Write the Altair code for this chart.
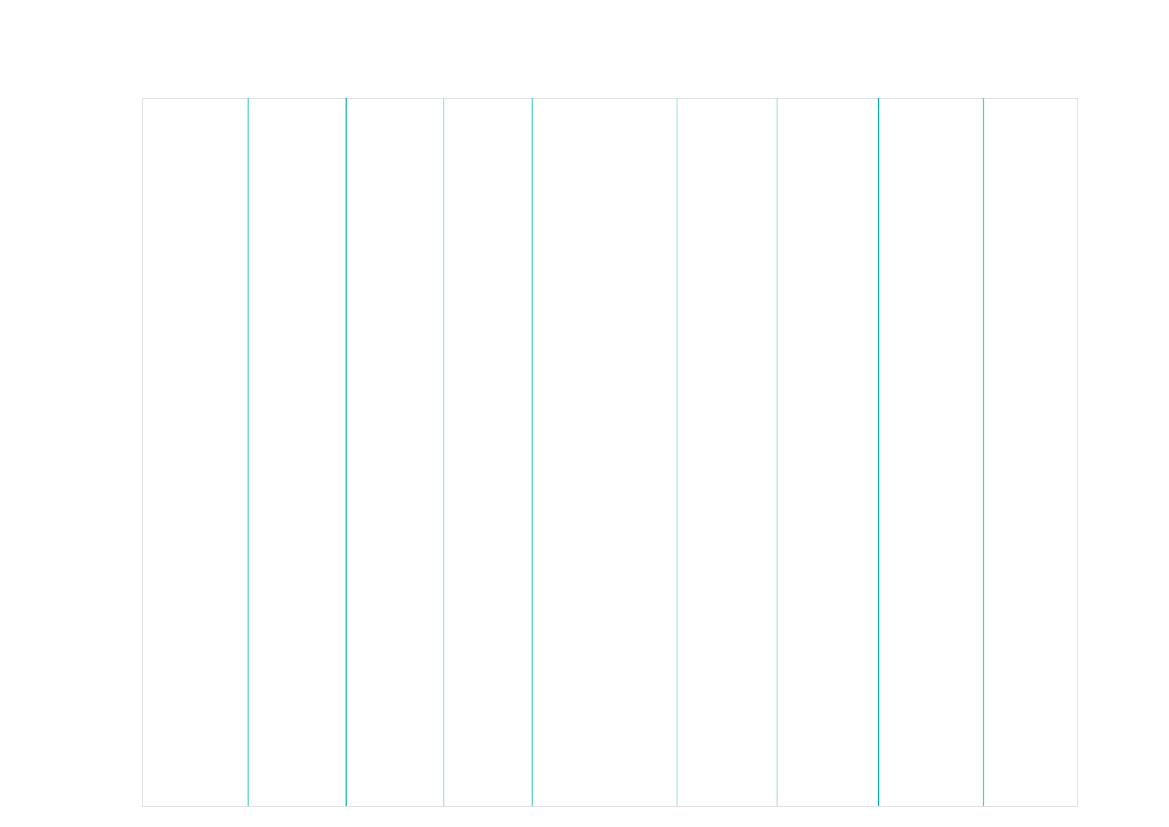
import altair as alt
import pandas as pd

positions = [11.36, 21.84, 32.26, 41.74, 57.23, 67.93, 78.77, 90.0]
levels = ["medium", "dark", "light", "medium", "light", "light", "dark", "medium"]

level_domain = ["dark", "medium", "light"]
level_colors = ["#00afa6", "#4ccfc4", "#aee3df"]

df = pd.DataFrame({"pos": positions, "level": levels})

chart = (
    alt.Chart(df)
    .mark_rule(strokeWidth=1.2)
    .encode(
        x=alt.X("pos:Q", scale=alt.Scale(domain=[0, 100], nice=False, zero=False), axis=None),
        color=alt.Color("level:N", scale=alt.Scale(domain=level_domain, range=level_colors), legend=None),
    )
    .properties(
        width=935,
        height=708,
        autosize=alt.AutoSizeParams(type="none"),
        padding={"left": 134, "top": 90, "right": 80, "bottom": 10},
    )
    .configure_view(stroke="#e0e0e0", strokeWidth=1)
)

chart.save("out.html", embed_options={"renderer": "svg", "actions": False})
